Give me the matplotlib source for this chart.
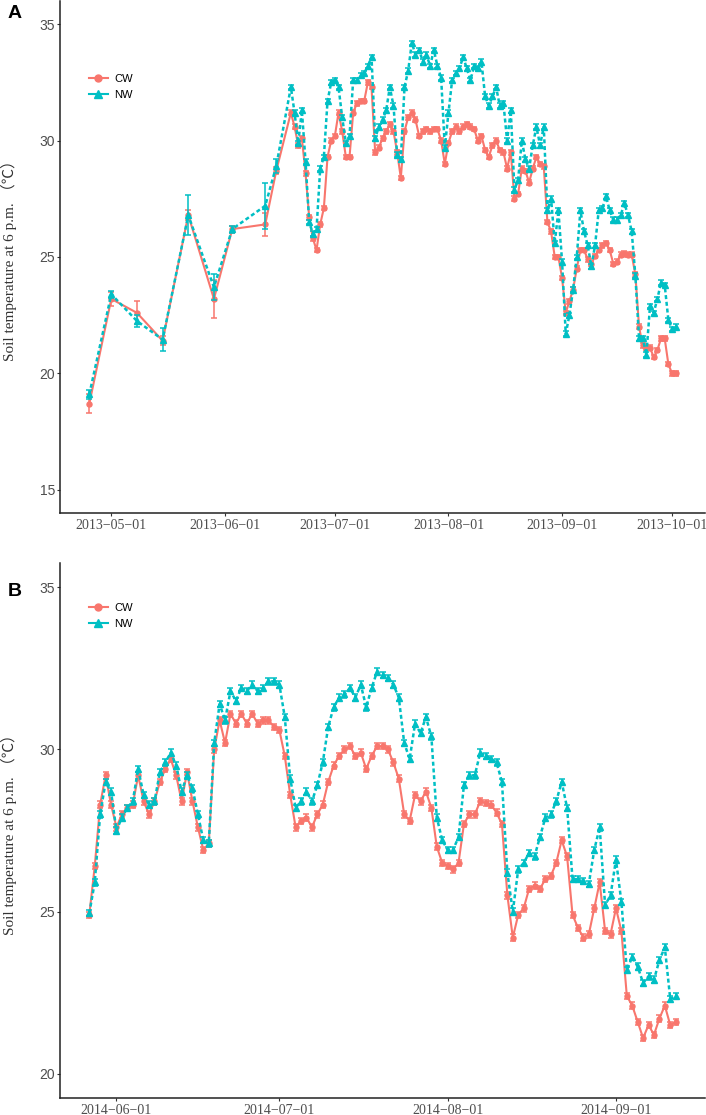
import pandas as pd
import matplotlib
matplotlib.use('Agg')
import matplotlib.pyplot as plt
import matplotlib.dates as mdates
from matplotlib.lines import Line2D

CW_COL = '#F8766D'
NW_COL = '#00BFC4'

# ---- Panel A (2013) ----
# sparse early sampling dates
a_sparse_dates = ['2013-04-25', '2013-05-01', '2013-05-08', '2013-05-15', '2013-05-22',
                  '2013-05-29', '2013-06-03', '2013-06-12', '2013-06-15']
a_cw_sparse = [18.7, 23.2, 22.6, 21.4, 26.8, 23.2, 26.2, 26.4, 28.7]
a_nw_sparse = [19.1, 23.4, 22.25, 21.45, 26.8, 23.7, 26.2, 27.2, 28.9]
a_cw_se_sparse = [0.4, 0.3, 0.5, 0.2, 0.2, 0.8, 0.15, 0.5, 0.15]
a_nw_se_sparse = [0.2, 0.15, 0.25, 0.5, 0.85, 0.55, 0.15, 1.0, 0.3]

# daily readings from 2013-06-19
a_daily_start = '2013-06-19'
a_cw_daily = [31.2, 30.6, 29.8, 30.1, 28.6, 26.7, 25.8, 25.3, 26.4, 27.1,
              29.3, 30.0, 30.2, 31.2, 30.4, 29.3, 29.3, 31.2, 31.6, 31.7, 31.7, 32.5, 32.3, 29.5, 29.7, 30.1,
              30.4, 30.7, 30.4, 29.5, 28.4, 30.4, 31.0, 31.2, 30.9, 30.2, 30.4, 30.5, 30.4, 30.5, 30.5,
              30.0, 29.0, 29.9, 30.4, 30.6, 30.4, 30.6, 30.7, 30.6, 30.5, 30.0, 30.2, 29.6, 29.3, 29.8,
              30.0, 29.6, 29.5, 28.8, 29.5, 27.5, 27.7, 28.8, 28.7, 28.2, 28.8, 29.3, 29.0, 28.9, 26.5, 26.1,
              25.0, 25.0, 24.1, 22.6, 23.1, 23.6, 24.5, 25.3, 25.3, 24.9, 24.7, 25.05, 25.3, 25.5, 25.6,
              25.3, 24.7, 24.8, 25.1, 25.15, 25.1, 25.1, 24.25, 22.0, 21.2, 21.1, 21.1, 20.7, 21.0, 21.5,
              21.5, 20.4, 20.0, 20.0]
a_nw_daily = [32.3, 31.2, 29.9, 31.3, 29.1, 26.5, 26.0, 26.2, 28.8, 29.3,
              31.7, 32.5, 32.6, 32.3, 31.0, 29.9, 30.2, 32.6, 32.6, 32.8, 32.9, 33.2, 33.6, 30.1, 30.6, 30.9,
              31.3, 32.3, 31.5, 29.4, 29.2, 32.3, 33.0, 34.2, 33.7, 33.9, 33.4, 33.7, 33.2, 33.9, 33.2,
              32.7, 29.7, 31.2, 32.6, 32.9, 33.1, 33.6, 33.1, 32.6, 33.2, 33.1, 33.4, 31.9, 31.5, 31.9,
              32.3, 31.5, 31.6, 30.0, 31.3, 27.9, 28.3, 30.0, 29.2, 28.8, 29.8, 30.6, 29.8, 30.6, 27.0, 27.5,
              25.6, 27.0, 24.8, 21.7, 22.5, 23.6, 25.0, 27.0, 26.1, 25.5, 24.6, 25.5, 27.0, 27.1, 27.6,
              27.0, 26.6, 26.6, 26.8, 27.3, 26.8, 26.1, 24.2, 21.5, 21.5, 20.8, 22.9, 22.6, 23.2, 23.9,
              23.8, 22.3, 21.9, 22.0]
se_daily = 0.1

# ---- Panel B (2014) ----
b_daily_start = '2014-05-27'
b_cw = [24.9, 26.4, 28.3, 29.2, 28.3, 27.6, 28.0, 28.2, 28.3, 29.2, 28.4, 28.0, 28.4, 29.0, 29.4,
        29.7, 29.2, 28.4, 29.3, 28.4, 27.6, 26.9, 27.1, 30.0, 30.9, 30.2, 31.1, 30.8, 31.1,
        30.8, 31.1, 30.8, 30.9, 30.9, 30.7, 30.6, 29.8, 28.6, 27.6, 27.8, 27.9, 27.6, 28.0, 28.3,
        29.0, 29.5, 29.8, 30.0, 30.1, 29.8, 29.9, 29.4, 29.8, 30.1, 30.1, 30.0, 29.6, 29.1, 28.0,
        27.8, 28.6, 28.4, 28.7, 28.2, 27.0, 26.5, 26.4, 26.3, 26.5, 27.7, 28.0, 28.0,
        28.4, 28.35, 28.3, 28.05, 27.7, 25.5, 24.2, 24.9, 25.1, 25.7, 25.8, 25.7, 26.0, 26.1, 26.5,
        27.2, 26.7, 24.9, 24.5, 24.2, 24.3, 25.1, 25.9, 24.4, 24.3, 25.1, 24.4, 22.4, 22.1, 21.6,
        21.1, 21.5, 21.2, 21.7, 22.1, 21.5, 21.6]
b_nw = [24.95, 25.9, 28.0, 29.0, 28.7, 27.5, 27.9, 28.2, 28.4, 29.4, 28.6, 28.3, 28.4, 29.3, 29.6,
        29.9, 29.5, 28.7, 29.2, 28.8, 28.0, 27.2, 27.1, 30.2, 31.4, 30.9, 31.8, 31.5, 31.9,
        31.8, 32.0, 31.8, 31.9, 32.1, 32.1, 32.0, 31.0, 29.1, 28.2, 28.4, 28.7, 28.4, 28.9, 29.6,
        30.7, 31.3, 31.6, 31.7, 31.9, 31.6, 32.0, 31.3, 31.9, 32.4, 32.3, 32.2, 32.0, 31.6, 30.2,
        29.7, 30.8, 30.5, 31.0, 30.4, 27.9, 27.2, 26.9, 26.9, 27.3, 28.9, 29.2, 29.2,
        29.9, 29.8, 29.7, 29.6, 29.0, 26.2, 25.0, 26.3, 26.5, 26.8, 26.7, 27.3, 27.9, 28.0, 28.4,
        29.0, 28.2, 26.0, 26.0, 25.95, 25.85, 26.9, 27.6, 25.2, 25.5, 26.6, 25.3, 23.2, 23.6, 23.3,
        22.8, 23.0, 22.9, 23.5, 23.9, 22.3, 22.4]

YLABEL = 'Soil temperature at 6 p.m. （℃）'


def draw_panel(ax, dates, cw, nw, cw_se, nw_se, ylim, yticks):
    ax.errorbar(dates, cw, yerr=cw_se, fmt='none', ecolor=CW_COL, elinewidth=1.1,
                capsize=2.2, capthick=1.1, zorder=2)
    ax.plot(dates, cw, color=CW_COL, lw=1.5, marker='o', ms=3.6, zorder=3)
    ax.errorbar(dates, nw, yerr=nw_se, fmt='none', ecolor=NW_COL, elinewidth=1.1,
                capsize=2.2, capthick=1.1, zorder=4)
    ax.plot(dates, nw, color=NW_COL, lw=1.8, ls=(0, (1.6, 1.1)), marker='^', ms=5, zorder=5)

    ax.set_ylim(*ylim)
    ax.set_yticks(yticks)
    ax.margins(x=0.05)
    ax.xaxis.set_major_locator(mdates.MonthLocator())
    ax.xaxis.set_major_formatter(mdates.DateFormatter('%Y\u2212%m\u2212%d'))

    for s in ['top', 'right']:
        ax.spines[s].set_visible(False)
    for s in ['left', 'bottom']:
        ax.spines[s].set_color('#222222')
        ax.spines[s].set_linewidth(1.1)
    ax.tick_params(axis='y', colors='#333333', labelcolor='#4D4D4D', length=2.5, width=0.8,
                   labelsize=10, labelfontfamily='Liberation Sans', pad=1)
    ax.tick_params(axis='x', colors='#333333', labelcolor='#4D4D4D', length=2.5, width=0.8,
                   labelsize=10, labelfontfamily=['Liberation Serif', 'DejaVu Serif'], pad=2)

    ax.set_ylabel(YLABEL, fontsize=11, color='#333333',
                  family=['Liberation Serif', 'Noto Sans CJK SC', 'DejaVu Sans'])
    ax.yaxis.set_label_coords(-0.066, 0.5)

    handles = [Line2D([], [], color=CW_COL, lw=1.5, marker='o', ms=5),
               Line2D([], [], color=NW_COL, lw=1.5, marker='^', ms=6)]
    return handles


fig = plt.figure(figsize=(7.06, 11.15), dpi=100)

# panel A
axA = fig.add_axes([60 / 706, 1 - 513 / 1115, 645 / 706, 512 / 1115])
a_dates = list(pd.to_datetime(a_sparse_dates)) + list(pd.date_range(a_daily_start, periods=len(a_cw_daily), freq='D'))
a_cw = a_cw_sparse + a_cw_daily
a_nw = a_nw_sparse + a_nw_daily
a_cw_se = a_cw_se_sparse + [se_daily] * len(a_cw_daily)
a_nw_se = a_nw_se_sparse + [se_daily] * len(a_nw_daily)
h = draw_panel(axA, a_dates, a_cw, a_nw, a_cw_se, a_nw_se, (14, 36), [15, 20, 25, 30, 35])
axA.legend(h, ['CW', 'NW'], loc='upper left', bbox_to_anchor=(0.045, 0.858), frameon=False,
           handlelength=1.7, handletextpad=0.6, labelspacing=0.55,
           borderpad=0, borderaxespad=0, prop={'family': 'Liberation Sans', 'size': 8})

# panel B
axB = fig.add_axes([60 / 706, 1 - 1098 / 1115, 645 / 706, 535 / 1115])
b_dates = pd.date_range(b_daily_start, periods=len(b_cw), freq='D')
h = draw_panel(axB, b_dates, b_cw, b_nw, se_daily, se_daily, (19.25, 35.75), [20, 25, 30, 35])
axB.legend(h, ['CW', 'NW'], loc='upper left', bbox_to_anchor=(0.045, 0.925), frameon=False,
           handlelength=1.7, handletextpad=0.6, labelspacing=0.55,
           borderpad=0, borderaxespad=0, prop={'family': 'Liberation Sans', 'size': 8})

fig.text(15 / 706, 1 - 13 / 1115, 'A', ha='center', va='center', fontsize=14,
         fontweight='bold', family='Liberation Sans')
fig.text(15 / 706, 1 - 592 / 1115, 'B', ha='center', va='center', fontsize=14,
         fontweight='bold', family='Liberation Sans')

fig.savefig('out.png', dpi=100)
